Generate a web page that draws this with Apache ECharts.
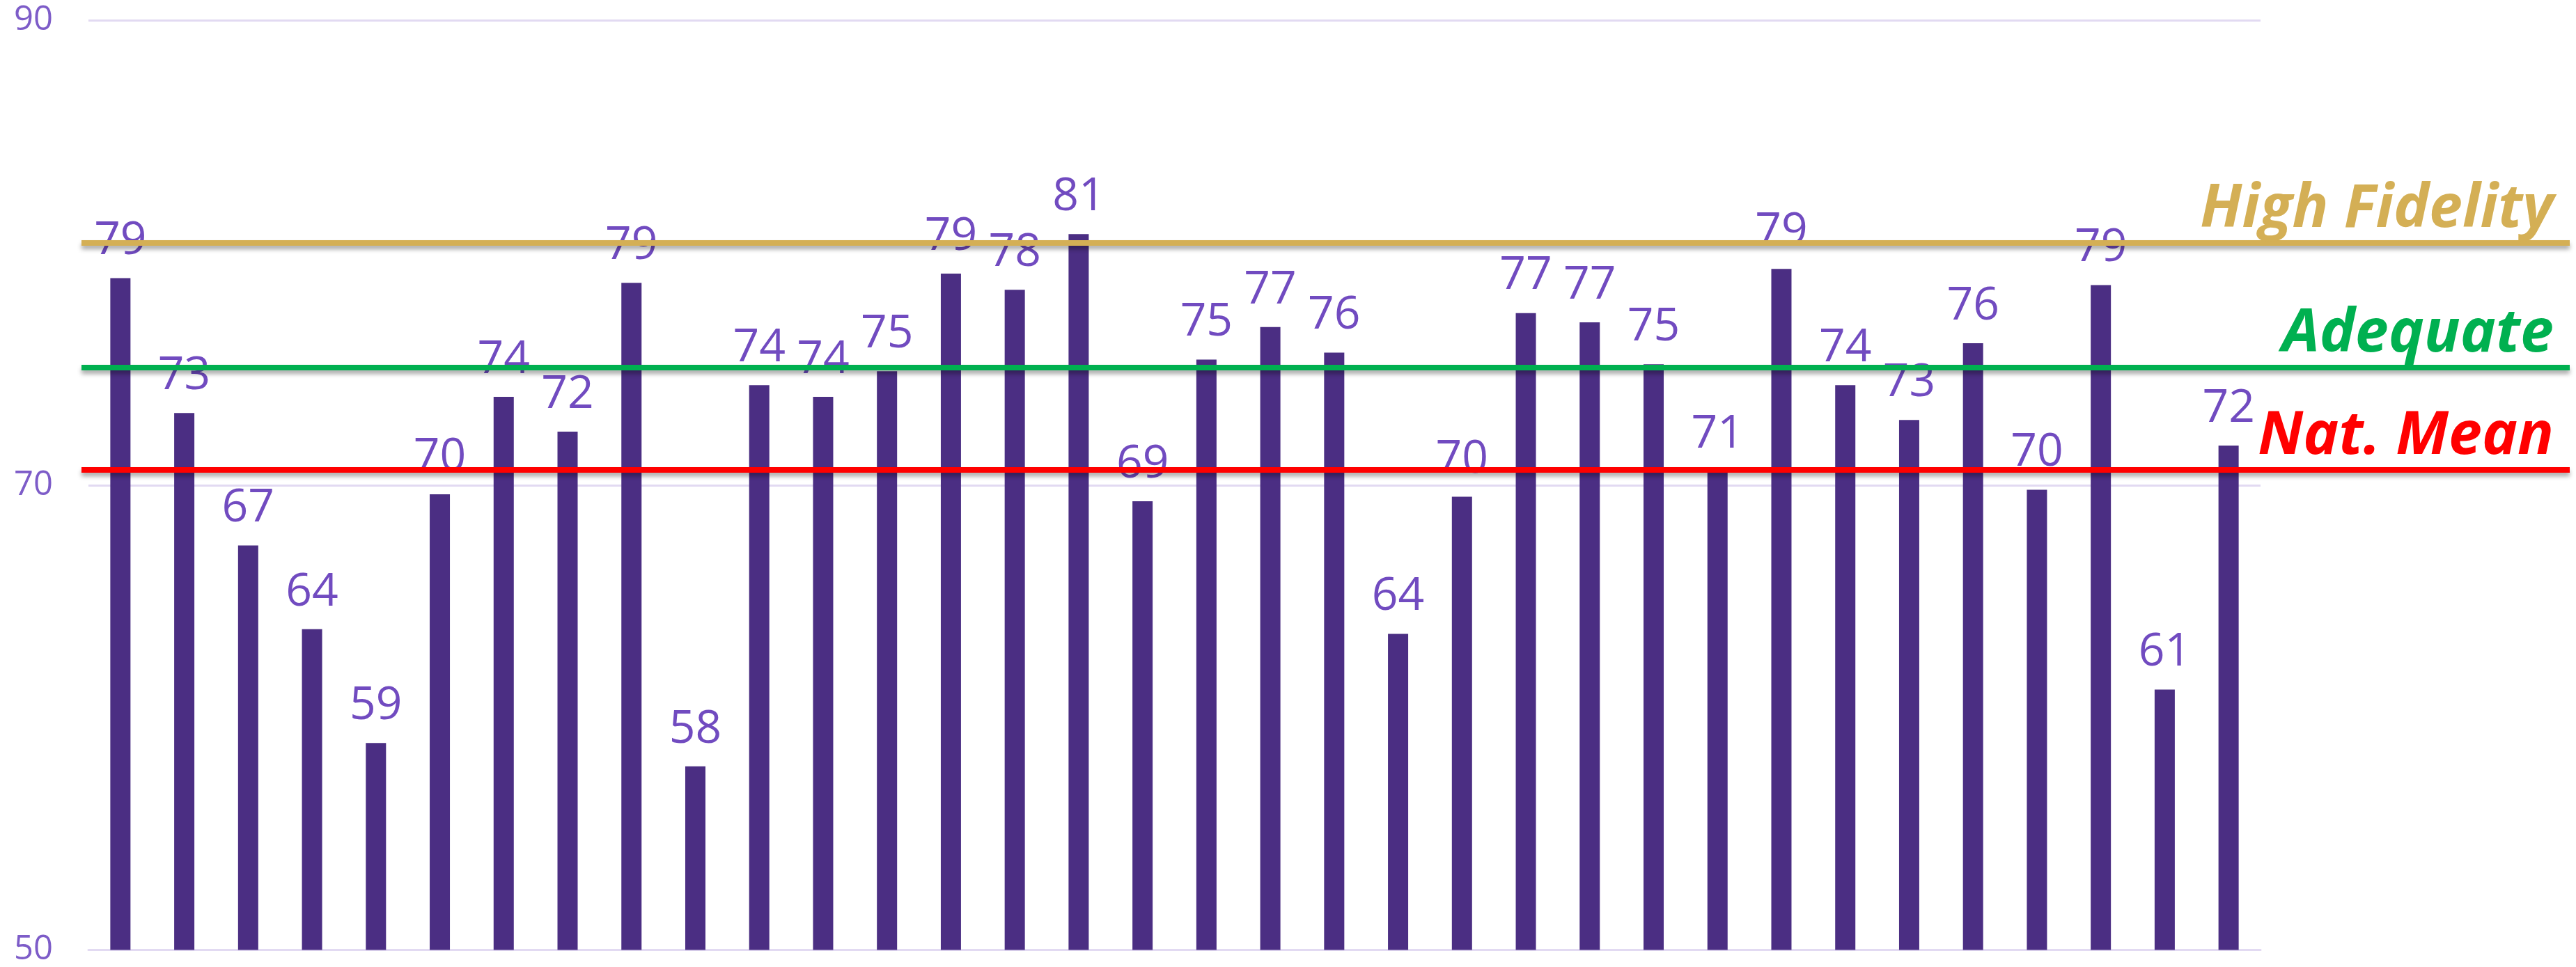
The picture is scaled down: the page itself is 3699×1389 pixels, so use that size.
<!DOCTYPE html>
<html>
<head>
<meta charset="utf-8">
<title>Fidelity scores</title>
<script src="https://cdn.jsdelivr.net/npm/echarts@6/dist/echarts.min.js"></script>
<style>
  html, body { margin: 0; padding: 0; background: #fff; }
  #chart { width: 3699px; height: 1389px; }
</style>
</head>
<body>
<div id="chart"></div>
<script>
// one bar per site, no category names shown on the chart
const sites = Array.from({length: 34}, (_, i) => "Site " + (i + 1));
const scores = [
  78.9, 73.1, 67.4, 63.8, 58.9, 69.6, 73.8, 72.3, 78.7, 57.9,
  74.3, 73.8, 74.9, 79.1, 78.4, 80.8, 69.3, 75.4, 76.8, 75.7,
  63.6, 69.5, 77.4, 77.0, 75.2, 70.6, 79.3, 74.3, 72.8, 76.1,
  69.8, 78.6, 61.2, 71.7
];
const refNames = ["High Fidelity", "Adequate", "Nat. Mean"];
const refValues = [80.45, 75.1, 70.7];
const refColors = ["#D4AF55", "#00B050", "#FF0000"];
const yTicks = [50, 70, 90];

const chart = echarts.init(document.querySelector("#chart"));

const refSeries = refNames.map((name, i) => ({
  type: "line",
  name: name,
  xAxisIndex: 1,
  yAxisIndex: 1,
  data: [],
  silent: true,
  markLine: {
    silent: true,
    symbol: "none",
    animation: false,
    lineStyle: {
      color: refColors[i],
      width: 8,
      type: "solid",
      shadowColor: "rgba(0,0,0,0.35)",
      shadowBlur: 6,
      shadowOffsetY: 5
    },
    label: {
      show: true,
      position: "insideEndTop",
      distance: [23, 4],
      formatter: name,
      color: refColors[i],
      fontFamily: "Open Sans",
      fontStyle: "italic",
      fontWeight: "bold",
      fontSize: 86
    },
    data: [{yAxis: refValues[i]}]
  }
}));

chart.setOption({
  animation: false,
  grid: [
    {left: 127, right: 453, top: 29, bottom: 22},
    {left: 117, right: 9, top: 29, bottom: 22}
  ],
  xAxis: [
    {
      type: "category",
      gridIndex: 0,
      data: sites,
      axisLine: {show: true, lineStyle: {color: "#E2DAF2", width: 3}},
      axisTick: {show: false},
      axisLabel: {show: false}
    },
    {type: "value", gridIndex: 1, min: 0, max: 1, show: false}
  ],
  yAxis: [
    {
      type: "value",
      gridIndex: 0,
      min: 50,
      max: 90,
      interval: 20,
      axisLine: {show: false},
      axisTick: {show: false},
      axisLabel: {
        color: "#7D5CC8",
        fontFamily: "Open Sans",
        fontSize: 49,
        margin: 51,
        formatter: v => yTicks.includes(v) ? String(v) : ""
      },
      splitLine: {lineStyle: {color: "#E2DAF2", width: 3}}
    },
    {type: "value", gridIndex: 1, min: 50, max: 90, show: false}
  ],
  series: [
    {
      type: "bar",
      name: "Score",
      data: scores,
      barWidth: 29,
      itemStyle: {color: "#4B2E83"},
      label: {
        show: true,
        position: "top",
        distance: 20,
        color: "#714BC0",
        fontFamily: "Open Sans",
        fontSize: 66,
        formatter: p => Math.round(p.value)
      }
    },
    ...refSeries
  ]
});
</script>
</body>
</html>
